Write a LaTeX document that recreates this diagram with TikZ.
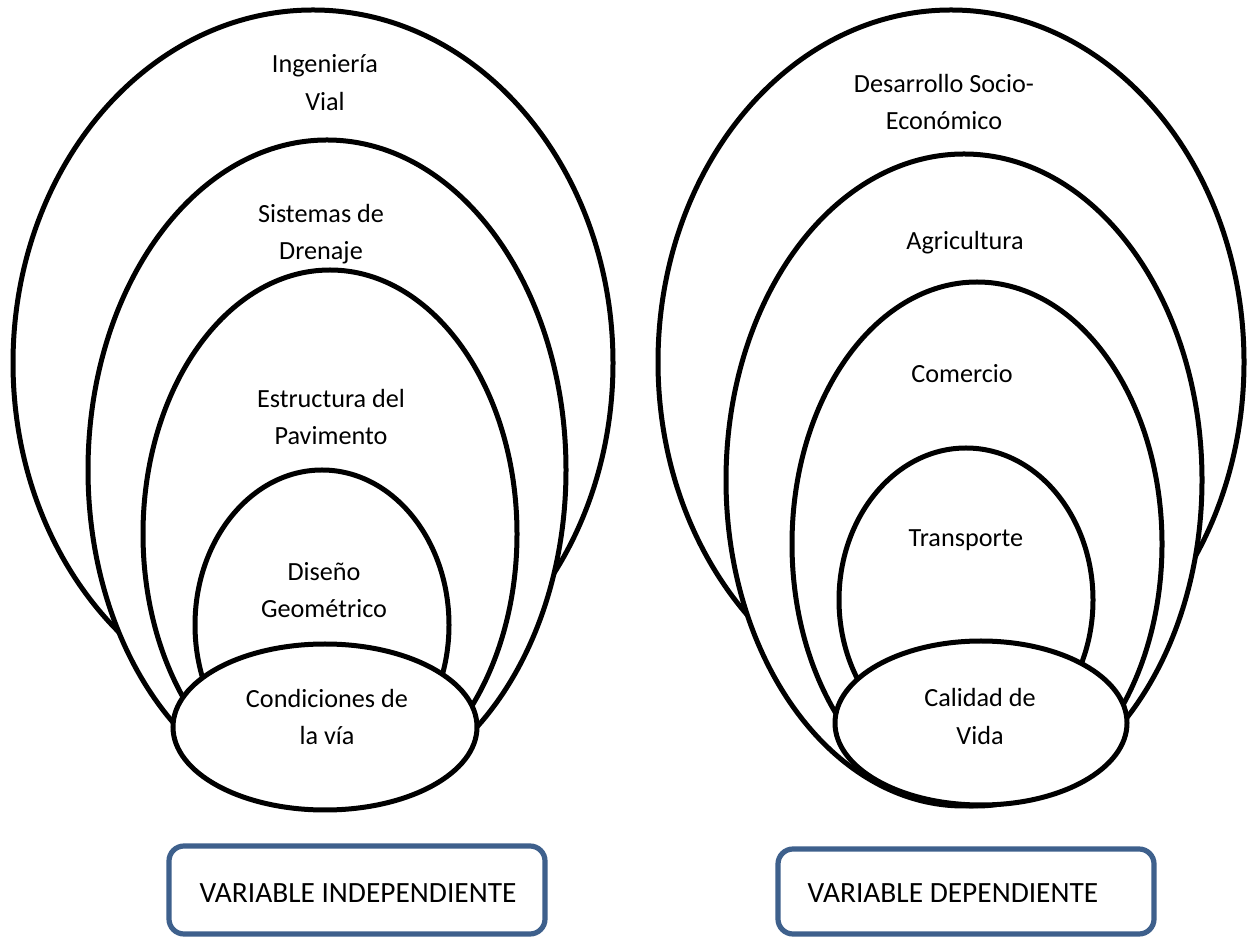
\documentclass[tikz,border=0pt]{standalone}
\usepackage{fontspec}
\setmainfont{Carlito}
\usetikzlibrary{shapes.geometric}
\definecolor{boxblue}{RGB}{62,96,140}
\begin{document}
\begin{tikzpicture}[x=0.5pt,y=0.5pt,
  ring/.style={ellipse, draw=black, fill=white, line width=2.5pt, inner sep=0pt},
  lbl/.style={align=center, font=\fontsize{13.1}{18.8}\selectfont, inner sep=0pt},
  varbox/.style={draw=boxblue, line width=2.6pt, rounded corners=7.5pt, inner sep=0pt},
  vartext/.style={font=\fontsize{14.7}{18}\selectfont, inner sep=0pt}]
\useasboundingbox (0,0) rectangle (1247,937);
% left set
\node[ring, minimum width=300pt, minimum height=353pt] (A) at (313,574) {};
\node[ring, minimum width=239pt, minimum height=330pt] (B) at (327,467) {};
\node[ring, minimum width=187pt, minimum height=264pt] (C) at (330,403) {};
\node[ring, minimum width=127pt, minimum height=155pt] (D) at (322,312) {};
\node[ring, minimum width=152pt, minimum height=83pt] (E) at (325,210) {};
% right set
\node[ring, minimum width=293pt, minimum height=352pt] (A2) at (951,575) {};
\node[ring, minimum width=238pt, minimum height=326pt] (B2) at (964,457) {};
\node[ring, minimum width=185pt, minimum height=262pt] (C2) at (977,393) {};
\node[ring, minimum width=127pt, minimum height=152pt] (D2) at (966,337) {};
\node[ring, minimum width=146pt, minimum height=82pt] (E2) at (981,214) {};
% labels
\node[lbl] (tA) at (325,854.5) {Ingeniería\\Vial};
\node[lbl] (tB) at (321,703) {Sistemas de\\Drenaje};
\node[lbl] (tC) at (331,520) {Estructura del\\Pavimento};
\node[lbl] (tD) at (324,347) {Diseño\\Geométrico};
\node[lbl] (tE) at (327,220) {Condiciones de\\la vía};
\node[lbl] (tA2) at (944,835) {Desarrollo Socio-\\Económico};
\node[lbl] (tB2) at (965,694) {Agricultura};
\node[lbl] (tC2) at (962,563) {Comercio};
\node[lbl] (tD2) at (966,397) {Transporte};
\node[lbl] (tE2) at (980,220.5) {Calidad de\\Vida};
% boxes
\node[varbox, minimum width=188pt, minimum height=44pt] (box1) at (357,47) {};
\node[varbox, minimum width=188pt, minimum height=42.5pt] (box2) at (966,45.5) {};
\node[vartext] (v1) at (358,44) {VARIABLE INDEPENDIENTE};
\node[vartext] (v2) at (953,44) {VARIABLE DEPENDIENTE};
\end{tikzpicture}
\end{document}
